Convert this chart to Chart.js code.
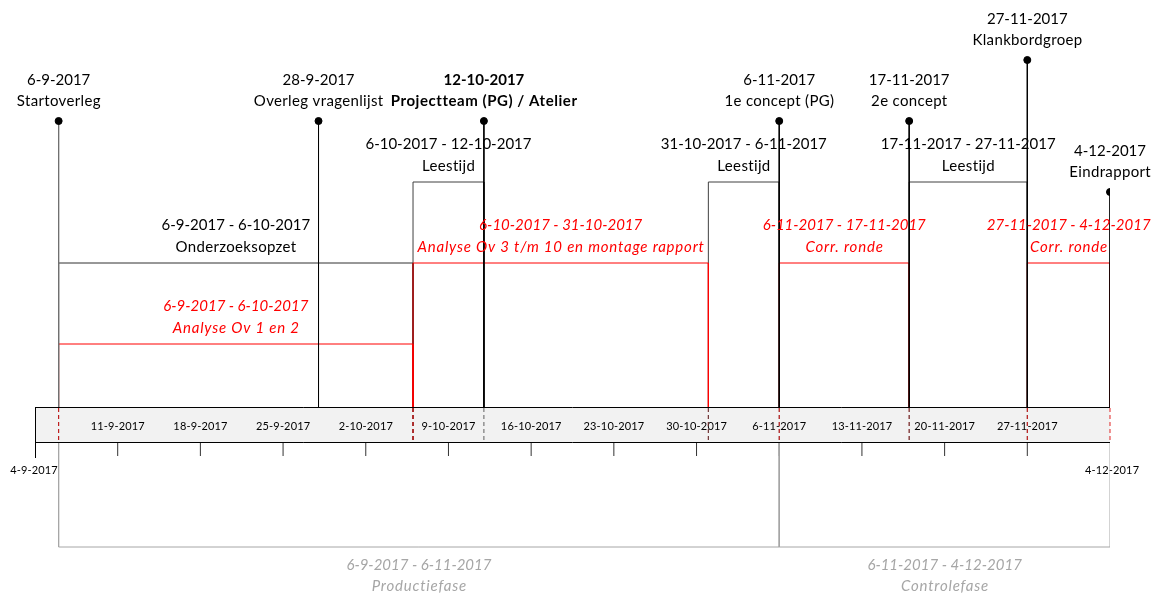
<!DOCTYPE html>
<html>
<head>
<meta charset="utf-8">
<script src="https://cdn.jsdelivr.net/npm/chart.js@4"></script>
<style>
  html, body { margin: 0; padding: 0; background: #fff; }
  #wrap { width: 1165px; height: 594px; }
</style>
</head>
<body>
<div id="wrap"><canvas id="tijdlijn" width="1165" height="594"></canvas></div>
<script>
// As van de tijdlijn
const axisStart = '4-9-2017';
const axisEnd = '4-12-2017';
const weekLabels = ['11-9-2017', '18-9-2017', '25-9-2017', '2-10-2017', '9-10-2017', '16-10-2017',
  '23-10-2017', '30-10-2017', '6-11-2017', '13-11-2017', '20-11-2017', '27-11-2017'];

// Mijlpalen
const milestoneDates = ['6-9-2017', '28-9-2017', '12-10-2017', '6-11-2017', '17-11-2017', '27-11-2017', '4-12-2017'];
const milestoneNames = ['Startoverleg', 'Overleg vragenlijst', 'Projectteam (PG) / Atelier',
  '1e concept (PG)', '2e concept', 'Klankbordgroep', 'Eindrapport'];
const milestoneHeights = [286, 286, 286, 286, 286, 347, 215];

// Tijdsperiodes boven de as
const spanNames = ['Onderzoeksopzet', 'Analyse Ov 1 en 2', 'Leestijd', 'Analyse Ov 3 t/m 10 en montage rapport',
  'Leestijd', 'Corr. ronde', 'Leestijd', 'Corr. ronde'];
const spanStarts = ['6-9-2017', '6-9-2017', '6-10-2017', '6-10-2017', '31-10-2017', '6-11-2017', '17-11-2017', '27-11-2017'];
const spanEnds = ['6-10-2017', '6-10-2017', '12-10-2017', '31-10-2017', '6-11-2017', '17-11-2017', '27-11-2017', '4-12-2017'];
const spanHeights = [144, 63, 225, 144, 225, 144, 225, 144];
const spanTypes = ['taak', 'analyse', 'lees', 'analyse', 'lees', 'analyse', 'lees', 'analyse'];

// Fases onder de as
const phaseNames = ['Productiefase', 'Controlefase'];
const phaseStarts = ['6-9-2017', '6-11-2017'];
const phaseEnds = ['6-11-2017', '4-12-2017'];

// dd-mm-jjjj -> dagen sinds begin van de as
function dag(s) {
  const [d, m, y] = s.split('-').map(Number);
  const [d0, m0, y0] = axisStart.split('-').map(Number);
  return Math.round((Date.UTC(y, m - 1, d) - Date.UTC(y0, m0 - 1, d0)) / 864e5);
}

const FONT = 'Lato, "Open Sans", sans-serif';
const RED = '#ff0000';
const GREY = '#a6a6a6';
const BAR_H = 36;
const PHASE_Y = -140;

const typeColor = { taak: '#303030', lees: '#404040', analyse: RED };
const boldNames = new Set(['Projectteam (PG) / Atelier']);

const datasets = [];

spanNames.forEach((n, i) => {
  const s = dag(spanStarts[i]), e = dag(spanEnds[i]), h = spanHeights[i];
  datasets.push({
    label: n,
    data: [{ x: s, y: 0 }, { x: s, y: h }, { x: e, y: h }, { x: e, y: 0 }],
    borderColor: typeColor[spanTypes[i]],
    borderWidth: 1,
    pointRadius: 0,
    order: spanTypes[i] === 'analyse' ? 2 : 3
  });
});

milestoneNames.forEach((n, i) => {
  const d = dag(milestoneDates[i]);
  datasets.push({
    label: n,
    data: [{ x: d, y: milestoneHeights[i] }, { x: d, y: 0 }],
    borderColor: i === 0 ? '#707070' : '#000000',
    borderWidth: 1,
    pointRadius: [3.5, 0],
    pointBackgroundColor: '#000',
    pointBorderColor: '#000',
    order: 1
  });
});

phaseNames.forEach((n, i) => {
  const s = dag(phaseStarts[i]), e = dag(phaseEnds[i]);
  datasets.push({
    label: n,
    data: [{ x: s, y: -BAR_H }, { x: s, y: PHASE_Y }, { x: e, y: PHASE_Y }, { x: e, y: -BAR_H }],
    borderColor: GREY,
    borderWidth: 1,
    pointRadius: 0,
    order: 4
  });
});

// tekst met wat extra letterafstand (Calibri-achtig)
function tekst(ctx, t, px, py, spacing) {
  ctx.letterSpacing = spacing + 'px';
  ctx.fillText(t, px + spacing / 2, py);
  ctx.letterSpacing = '0px';
}

const tijdlijnPlugin = {
  id: 'tijdlijn',
  beforeDatasetsDraw(chart) {
    const { ctx, scales: { x, y } } = chart;
    const x0 = x.getPixelForValue(0), x1 = x.getPixelForValue(dag(axisEnd));
    const top = y.getPixelForValue(0), bot = y.getPixelForValue(-BAR_H);
    ctx.save();
    // balk
    ctx.fillStyle = '#f2f2f2';
    ctx.fillRect(x0, top, x1 - x0, bot - top);
    ctx.strokeStyle = '#000';
    ctx.lineWidth = 1;
    ctx.beginPath();
    ctx.moveTo(x0, top + 0.5); ctx.lineTo(x1, top + 0.5);
    ctx.moveTo(x0, bot - 0.5); ctx.lineTo(x1, bot - 0.5);
    ctx.moveTo(x0 + 0.5, top); ctx.lineTo(x0 + 0.5, y.getPixelForValue(-BAR_H - 15));
    ctx.stroke();

    // week labels en ticks
    ctx.font = '11px ' + FONT;
    ctx.fillStyle = '#000';
    ctx.textAlign = 'center';
    ctx.textBaseline = 'middle';
    ctx.strokeStyle = '#333';
    weekLabels.forEach(l => {
      const px = x.getPixelForValue(dag(l));
      tekst(ctx, l, px, (top + bot) / 2 + 1, 0.15);
      ctx.beginPath();
      ctx.moveTo(px, bot);
      ctx.lineTo(px, y.getPixelForValue(-BAR_H - 13));
      ctx.stroke();
    });
    tekst(ctx, axisStart, x0 - 1, y.getPixelForValue(-BAR_H - 27), 0.15);
    tekst(ctx, axisEnd, x1 + 2, y.getPixelForValue(-BAR_H - 27), 0.15);

    // gestreepte markeringen in de balk
    ctx.setLineDash([4, 3]);
    spanNames.forEach((n, i) => {
      const c = spanTypes[i] === 'analyse' ? 'rgba(220,0,0,0.85)' : 'rgba(60,60,60,0.8)';
      ctx.strokeStyle = c;
      [spanStarts[i], spanEnds[i]].forEach(d => {
        const px = x.getPixelForValue(dag(d));
        ctx.beginPath();
        ctx.moveTo(px, top + 1);
        ctx.lineTo(px, bot - 1);
        ctx.stroke();
      });
    });
    ctx.restore();
  },
  afterDatasetsDraw(chart) {
    const { ctx, scales: { x, y } } = chart;
    ctx.save();
    ctx.textAlign = 'center';
    ctx.textBaseline = 'middle';

    milestoneNames.forEach((n, i) => {
      const px = x.getPixelForValue(dag(milestoneDates[i]));
      const py = y.getPixelForValue(milestoneHeights[i]);
      const bold = boldNames.has(n);
      ctx.font = (bold ? 'bold ' : '') + '15px ' + FONT;
      ctx.fillStyle = '#000';
      tekst(ctx, milestoneDates[i], px, py - 41, 0);
      tekst(ctx, n, px, py - 20, bold ? 0.55 : 0.35);
    });

    spanNames.forEach((n, i) => {
      const s = x.getPixelForValue(dag(spanStarts[i]));
      const e = x.getPixelForValue(dag(spanEnds[i]));
      const py = y.getPixelForValue(spanHeights[i]);
      const red = spanTypes[i] === 'analyse';
      ctx.font = (red ? 'italic ' : '') + '15px ' + FONT;
      ctx.fillStyle = red ? RED : '#000';
      tekst(ctx, spanStarts[i] + ' - ' + spanEnds[i], (s + e) / 2, py - 38, 0);
      tekst(ctx, n, (s + e) / 2, py - 16, red ? 0.8 : 0.35);
    });

    phaseNames.forEach((n, i) => {
      const s = x.getPixelForValue(dag(phaseStarts[i]));
      const e = x.getPixelForValue(dag(phaseEnds[i]));
      const py = y.getPixelForValue(PHASE_Y);
      ctx.font = 'italic 15px ' + FONT;
      ctx.fillStyle = GREY;
      tekst(ctx, phaseStarts[i] + ' - ' + phaseEnds[i], (s + e) / 2, py + 18, 0);
      tekst(ctx, n, (s + e) / 2, py + 39, 0.8);
    });
    ctx.restore();
  }
};

new Chart(document.getElementById('tijdlijn'), {
  type: 'line',
  data: { datasets },
  options: {
    responsive: false,
    animation: false,
    parsing: true,
    layout: { autoPadding: false, padding: { left: 35, right: 55, top: 0, bottom: 0 } },
    elements: { line: { tension: 0 } },
    scales: {
      x: { type: 'linear', min: 0, max: dag(axisEnd), display: false },
      y: { type: 'linear', min: -187, max: 407, display: false }
    },
    plugins: { legend: { display: false }, tooltip: { enabled: false } }
  },
  plugins: [tijdlijnPlugin]
});
</script>
</body>
</html>
